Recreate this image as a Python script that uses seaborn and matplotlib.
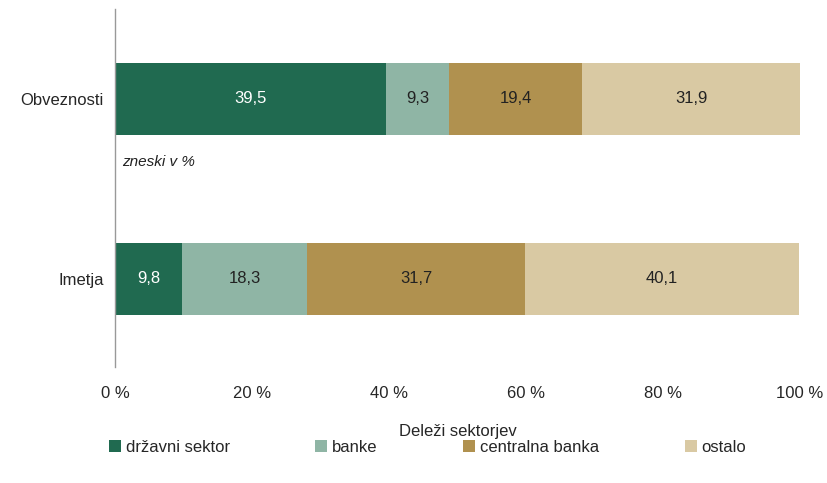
import matplotlib
matplotlib.use("Agg")
import matplotlib.pyplot as plt
import seaborn as sns
import pandas as pd
import numpy as np
from matplotlib.patches import Patch

categories = ["Obveznosti", "Imetja"]
series = ["državni sektor", "banke", "centralna banka", "ostalo"]
drzavni = [39.5, 9.8]
banke = [9.3, 18.3]
centralna = [19.4, 31.7]
ostalo = [31.9, 40.1]
colors = ["#206A50", "#8FB5A5", "#B0914F", "#D9C9A3"]
text_colors = ["white", "#222222", "#222222", "#222222"]
xticks = [0, 20, 40, 60, 80, 100]
xticklabels = ["0 %", "20 %", "40 %", "60 %", "80 %", "100 %"]

sns.set_theme(style="white")
plt.rcParams['font.family'] = ['Liberation Sans Narrow', 'Liberation Sans', 'DejaVu Sans']

vals = np.array([drzavni, banke, centralna, ostalo])
cum = np.cumsum(vals, axis=0)

fig = plt.figure(figsize=(8.27, 4.83), dpi=100)
ax = fig.add_axes([115/827, 1-367/483, 685/827, 358/483])

for i in range(len(series) - 1, -1, -1):
    df = pd.DataFrame({"cat": categories, "val": cum[i]})
    sns.barplot(data=df, y="cat", x="val", orient="h", color=colors[i],
                width=0.4, saturation=1, ax=ax, linewidth=0)

for i in range(len(series)):
    for j in range(len(categories)):
        mid = cum[i][j] - vals[i][j] / 2
        ax.text(mid, j, f"{vals[i][j]:.1f}".replace(".", ","), ha="center", va="center",
                color=text_colors[i], fontsize=12)

ax.set_xlim(0, 100)
ax.set_ylim(1.49, -0.5)
ax.set_xticks(xticks)
ax.set_xticklabels(xticklabels, fontsize=12)
ax.tick_params(axis="x", length=0, pad=14)
ax.tick_params(axis="y", length=0, pad=8, labelsize=12)
ax.set_ylabel("")
ax.set_xlabel("Deleži sektorjev", fontsize=12, labelpad=16)
for s in ["top", "right", "bottom"]:
    ax.spines[s].set_visible(False)
ax.spines["left"].set_color("#999999")
ax.spines["left"].set_linewidth(1)

ax.text(1, 0.35, "zneski v %", style="italic", fontsize=11, va="center", ha="left", color="#222222")

xpos = [104, 310, 458, 680]
for c, s, x in zip(colors, series, xpos):
    h = [Patch(facecolor=c, edgecolor="none", label=s)]
    fig.legend(handles=h, loc="center left", bbox_to_anchor=(x/827, 1-447/483),
               frameon=False, fontsize=12, handlelength=0.7, handleheight=0.7,
               handletextpad=0.3, borderaxespad=0, borderpad=0.3)

fig.savefig("out.png", dpi=100)
